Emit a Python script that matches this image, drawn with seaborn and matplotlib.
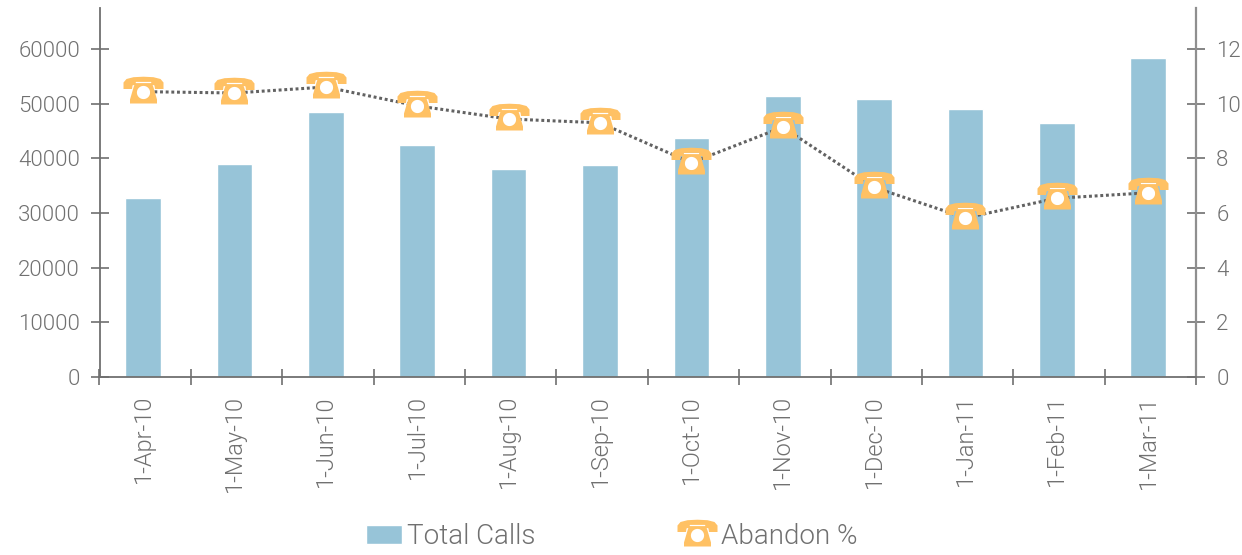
import numpy as np
import matplotlib
matplotlib.use("Agg")
import matplotlib.pyplot as plt
from matplotlib.path import Path
from matplotlib.patches import Patch
from matplotlib.lines import Line2D
import pandas as pd
import seaborn as sns

months = ["1-Apr-10", "1-May-10", "1-Jun-10", "1-Jul-10", "1-Aug-10", "1-Sep-10",
          "1-Oct-10", "1-Nov-10", "1-Dec-10", "1-Jan-11", "1-Feb-11", "1-Mar-11"]
total_calls = [32700, 38900, 48400, 42400, 38000, 38750,
               43650, 51350, 50800, 49000, 46400, 58300]
abandon_pct = [10.44, 10.39, 10.61, 9.92, 9.44, 9.3,
               7.84, 9.14, 6.94, 5.82, 6.54, 6.74]
left_ticks = [0, 10000, 20000, 30000, 40000, 50000, 60000]
right_ticks = [0, 2, 4, 6, 8, 10, 12]

BAR = "#97c4d8"
ORANGE = "#ffc164"
LINE = "#626262"
TEXT = "#707070"
W, H, DPI = 1242, 555, 100
PT = 72 / DPI

sns.set_theme(style="white")
plt.rcParams["font.family"] = ["Roboto", "DejaVu Sans"]
plt.rcParams["font.weight"] = 300


def poly(points):
    pts = list(points) + [points[0]]
    codes = [Path.MOVETO] + [Path.LINETO] * (len(points) - 1) + [Path.CLOSEPOLY]
    return Path(pts, codes)


# handset and body wound clockwise; the dial counter-clockwise, which makes it a hole
handset = poly([(-20, 3.5), (-20, 10), (-17, 13.5), (-10, 15.3), (0, 15.8), (10, 15.3),
                (17, 13.5), (20, 10), (20, 3.5), (11.5, 3.5), (11, 7), (8.5, 8), (7.5, 10.6),
                (-7.5, 10.6), (-8.5, 8), (-11, 7), (-11.5, 3.5)])
body = poly([(-13.5, -11), (-13.5, -7), (-10, 5), (-8.5, 9.4), (8.5, 9.4), (10, 5),
             (13.5, -7), (13.5, -11)])
ang = np.linspace(0, 2 * np.pi, 40, endpoint=False)
dial = poly(list(zip(6.6 * np.cos(ang), 6.6 * np.sin(ang))))
phone = Path.make_compound_path(handset, body, dial)
backing = poly([(-6.5, -7), (6.5, -7), (8, 10.6), (-8, 10.6)])


def msize(path):
    return 2 * np.abs(path.vertices).max() * PT


fig = plt.figure(figsize=(W / DPI, H / DPI), dpi=DPI, facecolor="white")
ax = fig.add_axes([99.5 / W, 1 - 377 / H, (1196 - 99.5) / W, (377 - 8) / H])
ax2 = ax.twinx()

df = pd.DataFrame({"month": months, "calls": total_calls, "abandon": abandon_pct})
xpos = np.arange(len(months))
sns.barplot(data=df, x="month", y="calls", color=BAR, saturation=1, width=0.39, ax=ax)
sns.lineplot(x=xpos, y=df["abandon"], color=LINE, linewidth=2.2,
             linestyle=(0, (0.95, 0.9)), ax=ax2)
sns.lineplot(x=xpos, y=df["abandon"], linestyle="", marker=backing,
             markersize=msize(backing), markerfacecolor="white", markeredgewidth=0, ax=ax2)
sns.lineplot(x=xpos, y=df["abandon"], linestyle="", marker=phone,
             markersize=msize(phone), markerfacecolor=ORANGE, markeredgewidth=0, ax=ax2)

x0 = -0.477
ax.set_xlim(x0, x0 + 12)
ax.set_ylim(0, 67500)
ax2.set_ylim(0, 13.5)
ax.set_xlabel("")
ax.set_ylabel("")
ax2.set_ylabel("")

ax.set_yticks(left_ticks)
ax.set_yticklabels([str(v) for v in left_ticks])
ax2.set_yticks(right_ticks)
ax2.set_yticklabels([str(v) for v in right_ticks])
ax.set_xticks(xpos)
ax.set_xticklabels(months, rotation=90)
ax.set_xticks(x0 + np.arange(13), minor=True)

ax.tick_params(axis="y", which="major", direction="inout", length=13, width=1.2,
               color="#6f6f6f", labelcolor=TEXT, labelsize=16, pad=7.5, left=True)
ax2.tick_params(axis="y", which="major", direction="inout", length=13, width=1.2,
                color="#6f6f6f", labelcolor=TEXT, labelsize=16, pad=8, right=True)
ax.tick_params(axis="x", which="major", length=0, labelcolor=TEXT, labelsize=17, pad=13)
ax.tick_params(axis="x", which="minor", direction="inout", length=12, width=1.2,
               color="#6f6f6f", bottom=True)

for a in (ax, ax2):
    for s in a.spines.values():
        s.set_visible(False)
    a.grid(False)
for side, col, lw in [("left", "#6f6f6f", 1.3), ("right", "#8f8f8f", 1.6), ("bottom", "#6f6f6f", 1.3)]:
    ax2.spines[side].set_visible(True)
    ax2.spines[side].set_color(col)
    ax2.spines[side].set_linewidth(lw)

leg_kw = dict(frameon=False, fontsize=20, labelcolor=TEXT, borderpad=0, borderaxespad=0,
              handletextpad=0.18, handlelength=1.3, handleheight=0.68)
fig.legend(handles=[Patch(facecolor=BAR, label="Total Calls")], loc="center left",
           bbox_to_anchor=(366 / W, 1 - 537 / H), **leg_kw)
fig.legend(handles=[Line2D([], [], linestyle="", marker=phone, markersize=msize(phone),
                           markerfacecolor=ORANGE, markeredgewidth=0, label="Abandon %")],
           loc="center left", bbox_to_anchor=(677 / W, 1 - 537 / H),
           **{**leg_kw, "handlelength": 1.44, "handletextpad": 0.15})

fig.savefig("out.png", dpi=DPI, facecolor="white")
